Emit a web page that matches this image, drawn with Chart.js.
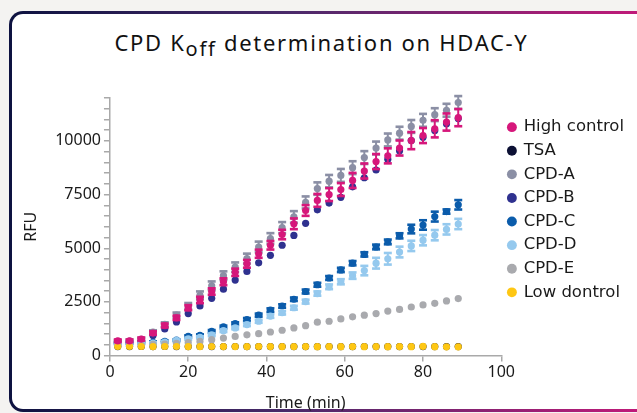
<!DOCTYPE html>
<html>
<head>
<meta charset="utf-8">
<script src="https://cdn.jsdelivr.net/npm/chart.js@4.4.1/dist/chart.umd.min.js"></script>
<style>
  html, body { margin: 0; padding: 0; background: #f4f3f1; }
  body { width: 637px; height: 413px; position: relative; overflow: hidden; }
  .card-frame {
    position: absolute; left: 9px; top: 11px; width: 700px; height: 401px;
    border-radius: 14px;
    background: linear-gradient(90deg, #0d1240 0%, #4a2a6a 40%, #d8177c 100%);
  }
  .card {
    position: absolute; left: 3px; top: 3px; right: 3px; bottom: 3px;
    border-radius: 11px; background: #fff;
  }
  .chart-title {
    position: absolute; left: 3px; top: 27px; width: 637px; text-align: center;
    font-family: "Noto Sans", sans-serif; font-size: 22px; letter-spacing: 1.7px; color: #111;
  }
  .chart-title sub { font-size: 20px; vertical-align: -5px; line-height: 0; }
  .chart-box { position: absolute; left: 0; top: 0; width: 637px; height: 413px; }
</style>
</head>
<body>
<div class="card-frame"><div class="card"></div></div>
<div class="chart-title">CPD K<sub>off</sub> determination on HDAC-Y</div>
<div class="chart-box"><canvas id="koff"></canvas></div>
<script>
// time points (min)
const TIME = [2, 5, 8, 11, 14, 17, 20, 23, 26, 29, 32, 35, 38, 41, 44,
  47, 50, 53, 56, 59, 62, 65, 68, 71, 74, 77, 80, 83, 86, 89];

// RFU readings per condition
const HIGH_CONTROL = [690, 690, 770, 1050, 1400, 1760, 2230, 2590, 2985, 3440, 3880, 4275, 4745, 5140, 5640,
  6140, 6760, 7230, 7500, 7735, 8160, 8600, 9040, 9305, 9670, 10015, 10250, 10565, 10880, 11085];
const TSA = [420, 420, 425, 420, 425, 420, 420, 425, 420, 420, 425, 420, 420, 420, 425,
  420, 420, 420, 425, 420, 420, 425, 420, 420, 420, 425, 420, 420, 420, 420];
const CPD_A = [660, 680, 760, 1100, 1450, 1885, 2300, 2810, 3255, 3725, 4120, 4520, 5060, 5455, 5960,
  6460, 7135, 7780, 8125, 8395, 8755, 9225, 9670, 10045, 10360, 10675, 10960, 11225, 11430, 11790];
const CPD_B = [580, 580, 650, 940, 1240, 1570, 1960, 2310, 2670, 3095, 3520, 3920, 4320, 4670, 5140,
  5600, 6160, 6790, 7105, 7375, 7860, 8285, 8645, 9150, 9540, 10015, 10170, 10485, 10800, 11040];
const CPD_C = [590, 600, 610, 620, 660, 720, 895, 940, 1130, 1335, 1490, 1680, 1885, 2120, 2310,
  2625, 2985, 3300, 3615, 3990, 4305, 4715, 5060, 5295, 5580, 5895, 6085, 6475, 6710, 7025];
const CPD_D = [560, 560, 570, 580, 630, 705, 785, 850, 970, 1160, 1290, 1445, 1600, 1840, 1995,
  2230, 2515, 2890, 3205, 3440, 3725, 3960, 4305, 4510, 4825, 5110, 5375, 5610, 5880, 6130];
const CPD_E = [480, 490, 500, 520, 540, 570, 600, 660, 740, 815, 895, 970, 1020, 1100, 1180,
  1290, 1395, 1555, 1600, 1710, 1805, 1885, 1960, 2075, 2150, 2265, 2360, 2435, 2545, 2655];
const LOW_CONTROL = [425, 425, 425, 420, 425, 425, 420, 420, 425, 420, 420, 420, 425, 420, 420,
  420, 420, 415, 420, 415, 420, 415, 420, 415, 420, 415, 430, 415, 410, 410];

// standard deviations (RFU)
const HIGH_CONTROL_SD = [60, 60, 70, 80, 90, 100, 120, 150, 150, 160, 170, 180, 190, 200, 220,
  250, 250, 300, 300, 300, 350, 350, 350, 350, 350, 400, 350, 400, 400, 400];
const CPD_A_SD = [60, 60, 70, 80, 100, 120, 150, 180, 200, 200, 220, 230, 250, 250, 260,
  270, 280, 290, 290, 300, 300, 300, 300, 300, 300, 300, 300, 300, 300, 300];
const CPD_C_SD = [40, 40, 40, 40, 40, 40, 50, 50, 60, 60, 60, 70, 70, 80, 80,
  80, 90, 90, 90, 100, 100, 100, 110, 110, 120, 200, 220, 230, 100, 220];
const CPD_D_SD = [40, 40, 40, 40, 40, 40, 50, 50, 60, 60, 60, 70, 70, 80, 80,
  90, 90, 100, 110, 120, 150, 220, 250, 270, 250, 240, 240, 240, 240, 240];

const Y_MAX = 12000;
const Y_STEP = 500;
const Y_LABEL_STEP = 2500;

function points(values) {
  return values.map((v, i) => ({ x: TIME[i], y: v }));
}

function series(label, values, color, order, sd) {
  return {
    label: label,
    data: points(values),
    errors: sd || null,
    order: order,
    backgroundColor: color,
    borderColor: color,
    borderWidth: 0,
    pointRadius: 3.6,
    pointHoverRadius: 4,
  };
}

// vertical error bars with caps, drawn straight after each dataset
const errorBars = {
  id: "errorBars",
  afterDatasetDraw(chart, args) {
    const ds = chart.data.datasets[args.index];
    if (!ds.errors) return;
    const xs = chart.scales.x;
    const ys = chart.scales.y;
    const ctx = chart.ctx;
    ctx.save();
    ctx.strokeStyle = ds.backgroundColor;
    ctx.fillStyle = ds.backgroundColor;
    ctx.lineWidth = 2;
    ds.data.forEach((p, i) => {
      const e = ds.errors[i];
      if (!e) return;
      const px = xs.getPixelForValue(p.x);
      const top = ys.getPixelForValue(p.y + e);
      const bot = ys.getPixelForValue(p.y - e);
      ctx.beginPath();
      ctx.moveTo(px, top);
      ctx.lineTo(px, bot);
      ctx.stroke();
      ctx.fillRect(px - 4, top - 1.3, 8, 2.6);
      ctx.fillRect(px - 4, bot - 1.3, 8, 2.6);
    });
    ctx.restore();
  },
};

const AXIS_COLOR = "#a9a9a9";
const TEXT_COLOR = "#1a1a1a";
const TICK_FONT = { family: "'Noto Sans', sans-serif", size: 16 };

new Chart(document.getElementById("koff"), {
  type: "scatter",
  data: {
    datasets: [
      series("High control", HIGH_CONTROL, "#d6177b", 0, HIGH_CONTROL_SD),
      series("TSA", TSA, "#0c1034", 7),
      series("CPD-A", CPD_A, "#8b8fa5", 5, CPD_A_SD),
      series("CPD-B", CPD_B, "#2f318f", 6),
      series("CPD-C", CPD_C, "#0b5cab", 4, CPD_C_SD),
      series("CPD-D", CPD_D, "#95c9ee", 3, CPD_D_SD),
      series("CPD-E", CPD_E, "#a9aaae", 2),
      series("Low dontrol", LOW_CONTROL, "#fec714", 1),
    ],
  },
  options: {
    responsive: true,
    maintainAspectRatio: false,
    animation: false,
    layout: { padding: { left: 22, top: 98, right: 3, bottom: 0 } },
    plugins: {
      legend: {
        position: "right",
        align: "start",
        fullSize: false,
        title: { display: true, text: " ", font: { size: 4 }, padding: { top: 9, bottom: 0 } },
        labels: {
          usePointStyle: true,
          pointStyle: "circle",
          boxWidth: 7,
          boxHeight: 7,
          padding: 7.1,
          color: TEXT_COLOR,
          font: { family: "'DejaVu Sans', sans-serif", size: 16.5 },
          sort: (a, b) => a.datasetIndex - b.datasetIndex,
        },
      },
      tooltip: { enabled: false },
    },
    scales: {
      x: {
        type: "linear",
        min: 0,
        max: 100,
        ticks: { stepSize: 20, color: TEXT_COLOR, font: TICK_FONT, padding: 1 },
        grid: { drawOnChartArea: false, color: AXIS_COLOR, tickLength: 6, lineWidth: 1.5 },
        border: { color: AXIS_COLOR, width: 1.5 },
        title: { display: true, text: "Time (min)", color: TEXT_COLOR, font: TICK_FONT, padding: { top: 11, bottom: 0 } },
      },
      y: {
        type: "linear",
        min: 0,
        max: Y_MAX,
        ticks: {
          stepSize: Y_STEP,
          autoSkip: false,
          color: TEXT_COLOR,
          font: TICK_FONT,
          padding: 3,
          callback: (v) => (v % Y_LABEL_STEP === 0 && v <= 10000 ? String(v) : ""),
        },
        grid: { drawOnChartArea: false, color: AXIS_COLOR, tickLength: 6, lineWidth: 1.5 },
        border: { color: AXIS_COLOR, width: 1.5 },
        title: { display: true, text: "RFU", color: TEXT_COLOR, font: TICK_FONT, padding: { top: 0, bottom: 11 } },
      },
    },
  },
  plugins: [errorBars],
});
</script>
</body>
</html>
